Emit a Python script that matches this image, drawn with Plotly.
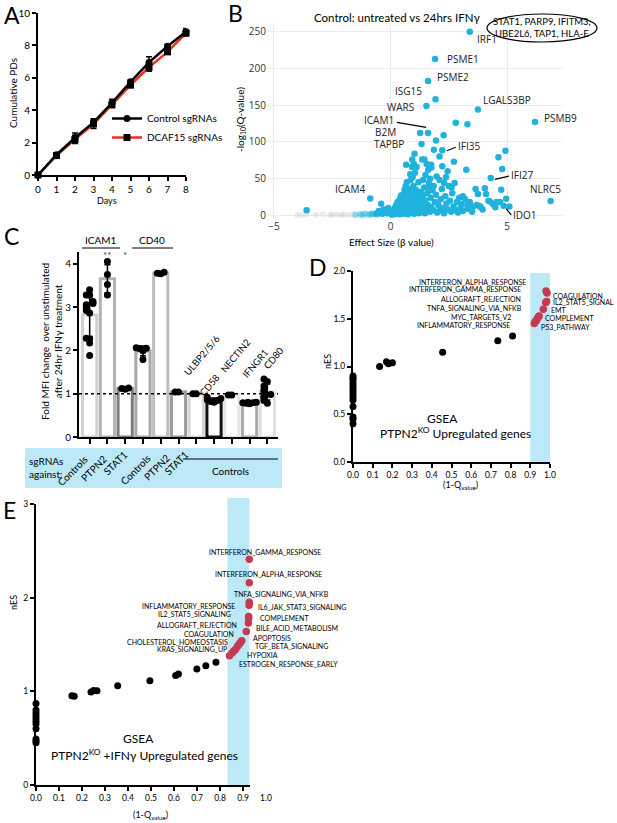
import plotly.graph_objects as go

W, H = 617, 823
FONT = "Lato"
BLUE_DOT = "#1fb2dc"
BAND = "#bde8f7"
RED = "#c43a50"


def px(x):
    return x / W


def py(y):
    return 1 - y / H


# ---------------- A: cumulative population doublings
days = [0, 1, 2, 3, 4, 5, 6, 7, 8]
control_pd = [0, 1.25, 2.3, 3.25, 4.45, 5.75, 6.95, 7.95, 8.85]
control_sd = [0, 0.1, 0.3, 0.22, 0.22, 0.12, 0.35, 0.1, 0.2]
dcaf15_pd = [0, 1.2, 2.2, 3.15, 4.35, 5.55, 6.65, 7.6, 8.75]
dcaf15_sd = [0, 0.1, 0.25, 0.28, 0.2, 0.15, 0.25, 0.12, 0.15]

# ---------------- B: volcano (effect size vs -log10 q)
hit_genes = ["IRF1", "PSME1", "PSME2", "ISG15", "WARS", "LGALS3BP", "PSMB9", "ICAM1",
             "B2M", "TAPBP", "IFI35", "IFI27", "NLRC5", "ICAM4", "IDO1"]
hit_beta = [3.4, 1.91, 1.61, 1.93, 1.54, 3.75, 6.2, 1.61, 1.27, 1.33, 2.22, 4.3, 6.87, -0.87, 4.85]
hit_q = [250, 213, 183, 158, 149, 144, 127, 112, 112, 97, 88.6, 51, 19.4, 23, 13]

cloud_points = [
    (0.05, 1), (0.1, 2), (0.12, 4), (0.15, 1.5), (0.18, 6), (0.2, 3), (0.22, 9), (0.25, 2), (0.28, 5), (0.3, 12),
    (0.32, 7), (0.35, 3), (0.38, 10), (0.4, 1.5), (0.15, 8), (0.08, 5), (0.25, 14), (0.35, 16), (0.42, 6), (0.2, 11),
    (0.45, 4), (0.48, 12), (0.5, 20), (0.52, 8), (0.55, 16), (0.58, 26), (0.6, 3), (0.62, 10), (0.65, 22), (0.68, 14),
    (0.7, 6), (0.72, 30), (0.75, 18), (0.78, 9), (0.8, 25), (0.5, 2), (0.55, 28), (0.6, 35), (0.65, 40), (0.7, 45),
    (0.75, 1.5), (0.8, 36), (0.45, 18), (0.62, 31), (0.58, 6), (0.66, 3), (0.4, 22), (0.52, 24), (0.3, 18), (0.45, 27),
    (0.82, 12), (0.85, 4), (0.88, 20), (0.9, 30), (0.92, 8), (0.95, 16), (0.98, 40), (1.0, 24), (1.02, 2), (1.05, 11),
    (1.08, 35), (1.1, 19), (1.12, 6), (1.15, 28), (1.18, 14), (1.2, 45), (1.22, 3), (1.25, 22), (1.28, 9), (1.3, 32),
    (0.86, 48), (0.95, 52), (1.05, 58), (1.12, 66), (1.0, 70), (0.92, 66), (0.85, 56), (1.03, 84), (0.67, 69), (0.93, 76),
    (1.32, 16), (1.35, 5), (1.38, 26), (1.4, 12), (1.45, 38), (1.48, 3), (1.5, 20), (1.55, 8), (1.58, 30), (1.6, 14),
    (1.65, 44), (1.7, 5), (1.72, 24), (1.75, 11), (1.8, 34), (1.85, 7), (1.9, 18), (1.95, 28), (2.0, 4), (1.4, 48),
    (1.5, 55), (1.62, 62), (1.7, 50), (1.55, 70), (1.45, 76), (1.75, 65), (1.85, 40), (1.68, 38), (1.36, 76), (1.74, 69),
    (2.05, 14), (2.1, 6), (2.15, 22), (2.2, 36), (2.25, 10), (2.3, 3), (2.35, 26), (2.4, 16), (2.45, 8), (2.5, 40),
    (2.55, 20), (2.6, 5), (2.65, 30), (2.7, 12), (2.75, 44), (2.8, 7), (2.85, 18), (2.9, 4), (2.95, 24), (3.0, 10),
    (2.1, 48), (2.22, 67), (2.38, 52), (2.72, 73), (2.45, 60), (2.3, 44), (2.62, 38), (1.98, 53), (2.1, 80), (1.86, 89.5),
    (1.95, 102), (2.28, 109), (2.8, 126), (3.3, 124),
    (3.05, 15), (3.1, 6), (3.2, 22), (3.25, 62), (3.3, 9), (3.4, 18), (3.5, 5), (3.55, 12), (3.65, 36), (3.75, 29),
    (3.85, 12), (3.95, 8), (4.05, 37), (4.1, 29), (4.2, 20), (4.26, 19), (4.4, 15), (4.55, 18), (4.7, 18), (4.75, 35),
    (4.79, 63), (4.63, 79), (4.93, 88), (4.96, 22.6), (5.1, 12), (4.5, 11), (3.7, 14), (3.3, 14), (3.1, 26), (3.84, 12),
    (-0.4, 15.8), (-0.5, 6), (-0.45, 3.5), (-0.3, 8), (-0.25, 4), (-0.35, 2), (-0.2, 6), (-0.15, 3), (-0.1, 10), (-0.6, 2),
    (-3.6, 7),
]
weak_points = [(-1.3, 1.5), (-1.1, 2), (-0.95, 1), (-0.8, 2.5), (-0.7, 1.5), (-0.6, 3), (-1.5, 0.8),
               (-0.55, 1), (-0.85, 1.2), (-1.2, 0.6)]
ns_points = [(-4.0, 0.5), (-3.6, 1), (-3.2, 0.5), (-2.9, 1), (-2.6, 0.6), (-2.3, 0.8), (-2.0, 1),
             (-1.8, 0.5), (-1.6, 1.2), (-3.8, 0.3), (-2.5, 1.2), (-2.1, 0.4)]
boxed_genes = "STAT1, PARP9, IFITM3,<br>UBE2L6, TAP1, HLA-E"

# ---------------- C: fold MFI change after IFNg
c_target = ["ICAM1", "ICAM1", "ICAM1", "CD40", "CD40", "CD40",
            "ULBP2/5/6", "CD58", "NECTIN2", "IFNGR1", "CD80"]
c_sgrna = ["Controls", "PTPN2", "STAT1", "Controls", "PTPN2", "STAT1",
           "Controls", "Controls", "Controls", "Controls", "Controls"]
c_fold = [
    [3.4, 3.28, 3.27, 3.13, 3.08, 3.05, 3.0, 2.92, 2.86, 2.28, 2.27, 2.17, 1.88],
    [4.05, 3.75, 3.52, 3.28],
    [1.1, 1.12, 1.13],
    [2.04, 2.05, 2.06, 1.99, 1.79],
    [3.77, 3.78, 3.8],
    [1.04, 1.04],
    [1.0, 1.0],
    [0.92, 0.89, 0.86, 0.84, 0.82, 0.8],
    [0.97, 0.97],
    [0.8, 0.79, 0.78, 0.77, 0.8, 0.79],
    [1.34, 1.28, 1.18, 1.09, 1.05, 0.98, 0.94, 0.9, 0.84, 0.78],
]
c_sig = ["", "**", "*", "", "", "", "", "", "", "", ""]

# ---------------- D: GSEA PTPN2 KO upregulated genes
d_zero_nes = [0.4, 0.45, 0.47, 0.58, 0.65, 0.68, 0.71, 0.74, 0.77, 0.8, 0.83, 0.86, 0.88, 0.9]
d_q = [0.135, 0.17, 0.18, 0.2, 0.455, 0.735, 0.81]
d_nes = [1.0, 1.05, 1.03, 1.04, 1.15, 1.27, 1.32]
d_sig_q = [0.98, 0.985, 0.983, 0.978, 0.966, 0.945, 0.942, 0.935, 0.93, 0.925, 0.92]
d_sig_nes = [1.79, 1.77, 1.68, 1.67, 1.6, 1.53, 1.52, 1.5, 1.48, 1.47, 1.45]

# ---------------- E: GSEA PTPN2 KO + IFNg upregulated genes
e_zero_nes = [0.45, 0.47, 0.49, 0.6, 0.65, 0.68, 0.71, 0.74, 0.77, 0.8, 0.87]
e_q = [0.156, 0.166, 0.239, 0.25, 0.265, 0.355, 0.495, 0.607, 0.619, 0.699, 0.738, 0.782]
e_nes = [0.954, 0.947, 0.993, 1.01, 1.007, 1.06, 1.114, 1.17, 1.185, 1.238, 1.274, 1.31]
e_sig_q = [0.927, 0.927, 0.927, 0.926, 0.924, 0.924, 0.923, 0.914, 0.894, 0.888, 0.882,
           0.876, 0.868, 0.86, 0.852, 0.841]
e_sig_nes = [2.41, 2.16, 1.95, 1.92, 1.8, 1.78, 1.73, 1.64, 1.54, 1.52, 1.5, 1.48, 1.45,
             1.43, 1.41, 1.38]


def swarm(vals, step=0.19, tol=0.09):
    # simple prism-like horizontal spread for close values
    pattern = [0, -1, 1, -2, 2, -0.5, 0.5, -1.5, 1.5]
    order = sorted(range(len(vals)), key=lambda i: vals[i])
    res = [0] * len(vals)
    placed = []
    for i in order:
        n = sum(1 for j in placed if abs(vals[j] - vals[i]) < tol)
        res[i] = pattern[n % len(pattern)] * step
        placed.append(i)
    return res


def prism_axis(**kw):
    d = dict(showline=True, linecolor="black", linewidth=2, ticks="outside", ticklen=4,
             tickwidth=1.5, tickcolor="black", showgrid=False, zeroline=False,
             tickfont=dict(size=10, color="black", family=FONT))
    d.update(kw)
    return d


def ann(text, x, y, size=10, **kw):
    d = dict(text=text, x=px(x), y=py(y), xref="paper", yref="paper", showarrow=False,
             xanchor="center", yanchor="middle",
             font=dict(size=size, family=FONT, color="black"))
    d.update(kw)
    return d


fig = go.Figure()

# A traces
fig.add_trace(go.Scatter(
    x=days, y=dcaf15_pd, mode="lines+markers", name="DCAF15 sgRNAs", legendrank=2,
    line=dict(color="#e8321e", width=2.5),
    marker=dict(symbol="square", size=7, color="black"),
    error_y=dict(type="data", array=dcaf15_sd, color="black", thickness=1.5, width=3),
    cliponaxis=False, xaxis="x", yaxis="y"))
fig.add_trace(go.Scatter(
    x=days, y=control_pd, mode="lines+markers", name="Control sgRNAs", legendrank=1,
    line=dict(color="black", width=2.5),
    marker=dict(symbol="circle", size=7, color="black"),
    error_y=dict(type="data", array=control_sd, color="black", thickness=1.5, width=3),
    cliponaxis=False, xaxis="x", yaxis="y"))

# B traces
fig.add_trace(go.Scatter(
    x=[p[0] for p in ns_points], y=[p[1] for p in ns_points], mode="markers",
    marker=dict(size=6, color="rgba(205,210,220,0.45)"), showlegend=False,
    xaxis="x2", yaxis="y2"))
fig.add_trace(go.Scatter(
    x=[p[0] for p in weak_points], y=[p[1] for p in weak_points], mode="markers",
    marker=dict(size=6.5, color="rgba(31,178,220,0.45)"), showlegend=False,
    xaxis="x2", yaxis="y2"))
fig.add_trace(go.Scatter(
    x=[p[0] for p in cloud_points], y=[p[1] for p in cloud_points], mode="markers",
    marker=dict(size=6.5, color=BLUE_DOT), showlegend=False, xaxis="x2", yaxis="y2"))
fig.add_trace(go.Scatter(
    x=hit_beta, y=hit_q, mode="markers", text=hit_genes,
    marker=dict(size=6.5, color=BLUE_DOT), showlegend=False, xaxis="x2", yaxis="y2"))

# C traces
c_pos = list(range(len(c_fold)))
c_mean = [sum(v) / len(v) for v in c_fold]
c_sd = [(sum((a - m) ** 2 for a in v) / (len(v) - 1)) ** 0.5 for v, m in zip(c_fold, c_mean)]
c_line_colors = ["#d2d2d2", "#b3b3b3", "#7d7d7d", "#a8a8a8", "#bdbdbd", "#9a9a9a",
                 "#d6d6d6", "#111111", "#e6e6e6", "#aaaaaa", "#e0e0e0"]
fig.add_trace(go.Bar(
    x=c_pos, y=c_mean, width=0.8,
    marker=dict(color="white", line=dict(color=c_line_colors, width=3)),
    error_y=dict(type="data", array=c_sd, color="black", thickness=1.5, width=3),
    showlegend=False, xaxis="x3", yaxis="y3"))
dot_x, dot_y = [], []
for k, vals in enumerate(c_fold):
    for off, v in zip(swarm(vals), vals):
        dot_x.append(k + off)
        dot_y.append(v)
fig.add_trace(go.Scatter(
    x=dot_x, y=dot_y, mode="markers", marker=dict(size=7, color="black"),
    showlegend=False, cliponaxis=False, xaxis="x3", yaxis="y3"))

# D traces
fig.add_trace(go.Scatter(
    x=[0] * len(d_zero_nes) + d_q, y=d_zero_nes + d_nes, mode="markers",
    marker=dict(size=7, color="black"), showlegend=False, cliponaxis=False,
    xaxis="x4", yaxis="y4"))
fig.add_trace(go.Scatter(
    x=d_sig_q, y=d_sig_nes, mode="markers", marker=dict(size=7.5, color=RED),
    showlegend=False, cliponaxis=False, xaxis="x4", yaxis="y4"))

# E traces
fig.add_trace(go.Scatter(
    x=[0] * len(e_zero_nes) + e_q, y=e_zero_nes + e_nes, mode="markers",
    marker=dict(size=7, color="black"), showlegend=False, cliponaxis=False,
    xaxis="x5", yaxis="y5"))
fig.add_trace(go.Scatter(
    x=e_sig_q, y=e_sig_nes, mode="markers", marker=dict(size=7.5, color=RED),
    showlegend=False, cliponaxis=False, xaxis="x5", yaxis="y5"))

annotations = []
shapes = []

# panel letters
for letter, x, y in [("A", 12, 15), ("B", 235, 13), ("C", 11, 236), ("D", 318, 267), ("E", 9, 510)]:
    annotations.append(ann(letter, x, y, size=23))

# A texts
annotations.append(ann("Cumulative PDs", 13, 93, size=10, textangle=-90))
annotations.append(ann("Days", 107, 200, size=9))

# B texts
annotations.append(ann("Control: untreated vs 24hrs IFNγ", 397, 17, size=11.5))
annotations.append(ann(boxed_genes, 542, 28, size=9.5))
shapes.append(dict(type="circle", xref="paper", yref="paper", x0=px(487), x1=px(597),
                   y0=py(42), y1=py(14), line=dict(color="black", width=1.2)))
annotations.append(ann("-log<sub>10</sub>(Q-value)", 241, 120, size=10, textangle=-90))
annotations.append(ann("Effect Size (β value)", 391, 242, size=10))
b_label_pos = {
    "IRF1": (3.63, 240, "left"), "PSME1": (2.35, 213, "left"), "PSME2": (1.9, 188, "left"),
    "ISG15": (1.42, 169, "right"), "WARS": (1.08, 148, "right"), "LGALS3BP": (3.87, 157, "left"),
    "PSMB9": (6.49, 133, "left"), "ICAM1": (0.25, 130, "right"), "B2M": (0.33, 113, "right"),
    "TAPBP": (0.68, 97, "right"), "IFI35": (2.8, 95, "left"), "IFI27": (5.1, 55, "left"),
    "NLRC5": (6.63, 36, "center"), "ICAM4": (-1.73, 36, "center"), "IDO1": (5.18, 1, "left"),
}
for g in hit_genes:
    x, y, anchor = b_label_pos[g]
    annotations.append(dict(text=g, x=x, y=y, xref="x2", yref="y2", showarrow=False,
                            xanchor=anchor, yanchor="middle",
                            font=dict(size=10, family="Open Sans", color="#222")))
for x0, y0, x1, y1 in [(0.27, 126.6, 1.53, 119.8), (2.42, 88, 2.8, 92.7),
                       (4.48, 49, 5.08, 53.3), (4.96, 9, 5.18, 0.5)]:
    shapes.append(dict(type="line", xref="x2", yref="y2", x0=x0, y0=y0, x1=x1, y1=y1,
                       line=dict(color="black", width=1.2)))

# C texts
annotations.append(ann("Fold MFI change  over unstimulated<br>after 24hr IFNγ treatment", 52, 342,
                       size=10, textangle=-90))
annotations.append(ann("ICAM1", 101, 240, size=10))
annotations.append(ann("CD40", 152, 240, size=10))
shapes.append(dict(type="line", xref="paper", yref="paper", x0=px(82), x1=px(120), y0=py(248),
                   y1=py(248), line=dict(color="black", width=1)))
shapes.append(dict(type="line", xref="paper", yref="paper", x0=px(132), x1=px(173), y0=py(248),
                   y1=py(248), line=dict(color="black", width=1)))
for k, s in enumerate(c_sig):
    if s:
        annotations.append(dict(text=s, x=k, y=4.2, xref="x3", yref="y3", showarrow=False,
                                font=dict(size=10, family=FONT, color="#444")))
for name, x, y in [("ULBP2/5/6", 202, 356), ("CD58", 209, 385), ("NECTIN2", 236, 356),
                   ("IFNGR1", 255, 363), ("CD80", 273, 358)]:
    annotations.append(ann(name, x, y, size=9.5, textangle=-50))
shapes.append(dict(type="line", xref="x3", yref="y3", x0=-0.6, x1=10.6, y0=1, y1=1, layer="above",
                   line=dict(color="black", width=1.5, dash="dot")))
shapes.append(dict(type="rect", xref="paper", yref="paper", x0=px(25), x1=px(282), y0=py(488),
                   y1=py(448), fillcolor=BAND, line=dict(width=0), layer="below"))
annotations.append(ann("sgRNAs<br>against:", 27, 468, size=10, xanchor="left", align="left"))
for name, x, y in zip(c_sgrna[:6], [72, 94, 115, 135, 157, 176], [471, 468, 463, 470, 467, 463]):
    annotations.append(ann(name, x, y, size=10, textangle=-45))
shapes.append(dict(type="line", xref="paper", yref="paper", x0=px(183), x1=px(278), y0=py(459),
                   y1=py(459), line=dict(color="black", width=1)))
annotations.append(ann("Controls", 230, 471, size=10))

# D texts
shapes.append(dict(type="rect", xref="x4", yref="paper", x0=0.9, x1=1.0, y0=py(462), y1=py(273),
                   fillcolor=BAND, line=dict(width=0), layer="below"))
for name, x, y in [("INTERFERON_ALPHA_RESPONSE", 528, 282), ("INTERFERON_GAMMA_RESPONSE", 523, 289),
                   ("ALLOGRAFT_REJECTION", 523, 299), ("TNFA_SIGNALING_VIA_NFKB", 524, 308),
                   ("MYC_TARGETS_V2", 513, 317), ("INFLAMMATORY_RESPONSE", 512, 325)]:
    annotations.append(ann(name, x, y, size=7, xanchor="right"))
for name, x, y in [("COAGULATION", 551, 296), ("IL2_STAT5_SIGNAL", 551, 302), ("EMT", 549, 310),
                   ("COMPLEMENT", 543, 318), ("P53_PATHWAY", 539, 327)]:
    annotations.append(ann(name, x, y, size=7, xanchor="left"))
annotations.append(ann("GSEA", 442, 418, size=12))
annotations.append(ann("PTPN2<sup>KO</sup> Upregulated genes", 455, 433, size=12))
annotations.append(ann("nES", 327, 362, size=9, textangle=-90))
annotations.append(ann("(1-Q<sub>value</sub>)", 460, 485, size=9))

# E texts
shapes.append(dict(type="rect", xref="x5", yref="paper", x0=0.832, x1=0.927, y0=py(785), y1=py(498),
                   fillcolor=BAND, line=dict(width=0), layer="below"))
for name, x, y in [("INFLAMMATORY_RESPONSE", 237, 606), ("IL2_STAT5_SIGNALING", 233, 614),
                   ("ALLOGRAFT_REJECTION", 239, 625), ("COAGULATION", 236, 634),
                   ("CHOLESTEROL_HOMEOSTASIS", 230, 642), ("KRAS_SIGNALING_UP", 229, 649)]:
    annotations.append(ann(name, x, y, size=7, xanchor="right"))
for name, x, y in [("INTERFERON_GAMMA_RESPONSE", 207, 552), ("INTERFERON_ALPHA_RESPONSE", 213, 574),
                   ("TNFA_SIGNALING_VIA_NFKB", 232, 594), ("IL6_JAK_STAT3_SIGNALING", 256, 607),
                   ("COMPLEMENT", 258, 618), ("BILE_ACID_METABOLISM", 254, 628),
                   ("APOPTOSIS", 251, 638), ("TGF_BETA_SIGNALING", 253, 646),
                   ("HYPOXIA", 245, 655), ("ESTROGEN_RESPONSE_EARLY", 237, 664)]:
    annotations.append(ann(name, x, y, size=7, xanchor="left"))
annotations.append(ann("GSEA", 138, 738, size=12))
annotations.append(ann("PTPN2<sup>KO</sup> +IFNγ Upregulated genes", 144, 755, size=12))
annotations.append(ann("nES", 13, 603, size=9, textangle=-90))
annotations.append(ann("(1-Q<sub>value</sub>)", 150, 815, size=9))
annotations.append(ann("1.0", 266, 798, size=8.5))

fig.update_layout(
    width=W, height=H, margin=dict(l=0, r=0, t=0, b=0, autoexpand=False),
    paper_bgcolor="white", plot_bgcolor="white",
    font=dict(family=FONT, color="black"),
    showlegend=True,
    legend=dict(x=px(107), y=py(104), xanchor="left", yanchor="top", bgcolor="rgba(0,0,0,0)",
                font=dict(size=10, family=FONT), itemwidth=30, tracegroupgap=2),
    xaxis=prism_axis(domain=[px(38), px(186)], range=[0, 8], dtick=1, anchor="y"),
    yaxis=prism_axis(domain=[py(175), py(13)], range=[0, 10], dtick=2, anchor="x"),
    xaxis2=dict(domain=[px(267), px(563)], range=[-5.3, 7.4], tickvals=[-5, 0, 5], anchor="y2",
                showgrid=True, gridcolor="#ececec", zeroline=False, showline=False,
                tickfont=dict(size=10, family="Open Sans", color="#333")),
    yaxis2=dict(domain=[py(219), py(23)], range=[-5, 262], tickvals=[0, 50, 100, 150, 200, 250],
                anchor="x2", showgrid=True, gridcolor="#ececec", zeroline=False, showline=False,
                tickfont=dict(size=10, family="Open Sans", color="#333")),
    xaxis3=prism_axis(domain=[px(79), px(278)], range=[-0.6, 10.6], tickvals=c_pos,
                      showticklabels=False, ticklen=5, anchor="y3"),
    yaxis3=prism_axis(domain=[py(437), py(252)], range=[0, 4.27], dtick=1, anchor="x3"),
    xaxis4=prism_axis(domain=[px(353), px(550)], range=[0, 1.0], dtick=0.1, tickformat=".1f",
                      tickfont=dict(size=8.5, family=FONT), anchor="y4"),
    yaxis4=prism_axis(domain=[py(462), py(271)], range=[0, 2.0], dtick=0.5, tickformat=".1f",
                      tickfont=dict(size=8.5, family=FONT), anchor="x4"),
    xaxis5=prism_axis(domain=[px(36), px(250)], range=[0, 0.93],
                      tickvals=[0, 0.1, 0.2, 0.3, 0.4, 0.5, 0.6, 0.7, 0.8, 0.9], tickformat=".1f",
                      tickfont=dict(size=8.5, family=FONT), anchor="y5"),
    yaxis5=prism_axis(domain=[py(785), py(504)], range=[0, 3], dtick=1,
                      tickfont=dict(size=8.5, family=FONT), anchor="x5"),
    annotations=annotations,
    shapes=shapes,
)

fig.write_html("out.html", config={"displayModeBar": False},
               post_script="document.body.style.margin='0';")
